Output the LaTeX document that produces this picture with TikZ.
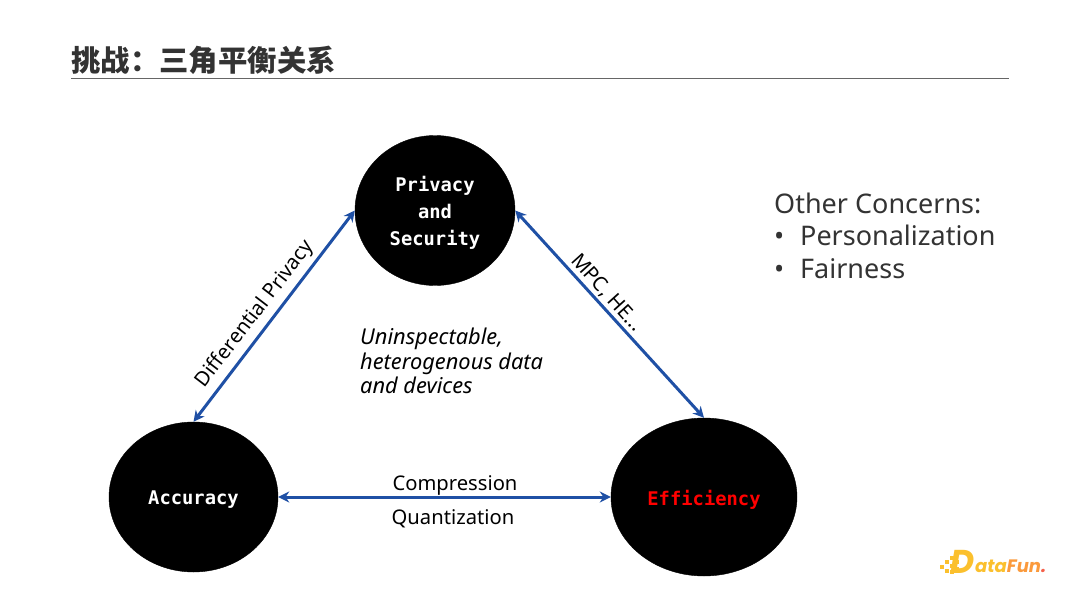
\documentclass[tikz,border=0pt]{standalone}
\usepackage{fontspec}
\usetikzlibrary{arrows.meta,shapes.geometric}
\setmainfont{Noto Sans}
\newfontfamily\cjk{Noto Sans CJK SC}
\newfontfamily\monof{DejaVu Sans Mono}
\newfontfamily\logof{Poppins}
\newcommand{\px}[1]{\fontsize{#1}{#1}\selectfont}
\newcommand{\lowered}[1]{\raisebox{-2.4pt}[\height][\depth]{#1}}
\definecolor{arrowblue}{HTML}{1F50A5}
\definecolor{textgray}{HTML}{333333}
\definecolor{logoyellow}{HTML}{FBC02D}
\definecolor{logoorange}{HTML}{FB9A3C}
\definecolor{logored}{HTML}{F5604A}
\tikzset{
  vertexnode/.style={draw=black,fill=black,shape=ellipse,inner sep=0pt,text=white,align=center,font=\monof\bfseries\px{18.8}},
  biarrow/.style={draw=arrowblue,line width=3pt,{Stealth[length=11pt,width=11pt]}-{Stealth[length=11pt,width=11pt]}},
  edgelabel/.style={inner sep=0pt,text=black,font=\px{20.2}},
}
\begin{document}
\begin{tikzpicture}[x=1pt,y=-1pt]
    \useasboundingbox (0,0) rectangle (1080,608);
    \fill[white] (0,0) rectangle (1080,608);

    % Title
    \node[anchor=west,inner sep=0pt,text=textgray,font=\cjk\bfseries\px{29.4}] (title) at (71,60) {挑战：三角平衡关系};
    \coordinate (ruleleft) at (71,78);
    \coordinate (ruleright) at (1009,78);
    \draw[gray!80!black,line width=0.8pt] (ruleleft) -- (ruleright);

    % Vertices
    \node[vertexnode,minimum width=160pt,minimum height=150pt] (privacy) at (435,210.5) {\lowered{Privacy}\\[8pt]\lowered{and}\\[8pt]\lowered{Security}};
    \node[vertexnode,minimum width=169pt,minimum height=150pt] (accuracy) at (193.5,497) {\lowered{Accuracy}};
    \node[vertexnode,minimum width=186pt,minimum height=158pt,text=red] (efficiency) at (704,497) {\lowered{Efficiency}};

    % Connectors
    \draw[biarrow] (privacy.west) -- (accuracy.north);
    \draw[biarrow] (privacy.east) -- (efficiency.north);
    \draw[biarrow] (accuracy.east) -- (efficiency.west);

    % Connector labels
    \node[edgelabel,rotate=52.5] (dplabel) at (255,314) {Differential Privacy};
    \node[edgelabel,rotate=-48] (mpclabel) at (607,293) {MPC, HE...};
    \node[edgelabel] (compression) at (455,485.5) {Compression};
    \node[edgelabel] (quantization) at (453,518.5) {Quantization};

    % Centre note
    \node[anchor=west,inner sep=0pt,align=left,font=\itshape\px{21.8}] (note) at (360,361) {Uninspectable,\\[2.5pt]heterogenous data\\[2.5pt]and devices};

    % Other concerns
    \node[anchor=north west,inner sep=0pt,align=left,text=textgray,font=\px{27}] (concerns) at (774,192.5) {Other Concerns:\\[5.4pt]\makebox[26pt][l]{•}Personalization\\[5.4pt]\makebox[26pt][l]{•}Fairness};

    % Logo
    \foreach \dx/\dy in {942/567,947/562,947/571,952/558,952/566,952/572,957/562,957/569}
        \fill[logoyellow] (\dx-1.6,\dy-1.6) rectangle (\dx+1.6,\dy+1.6);
    \node[anchor=base west,inner sep=0pt,text=logoyellow,font=\logof\bfseries\itshape\px{33}] (logod) at (950,573) {D};
    \node[anchor=base west,inner sep=0pt,font=\logof\bfseries\itshape\px{18}] (logotext) at (975,572.5)
        {\textcolor{logoyellow}{ata}\textcolor{logoorange}{Fun}\textcolor{logored}{.}};
\end{tikzpicture}
\end{document}
